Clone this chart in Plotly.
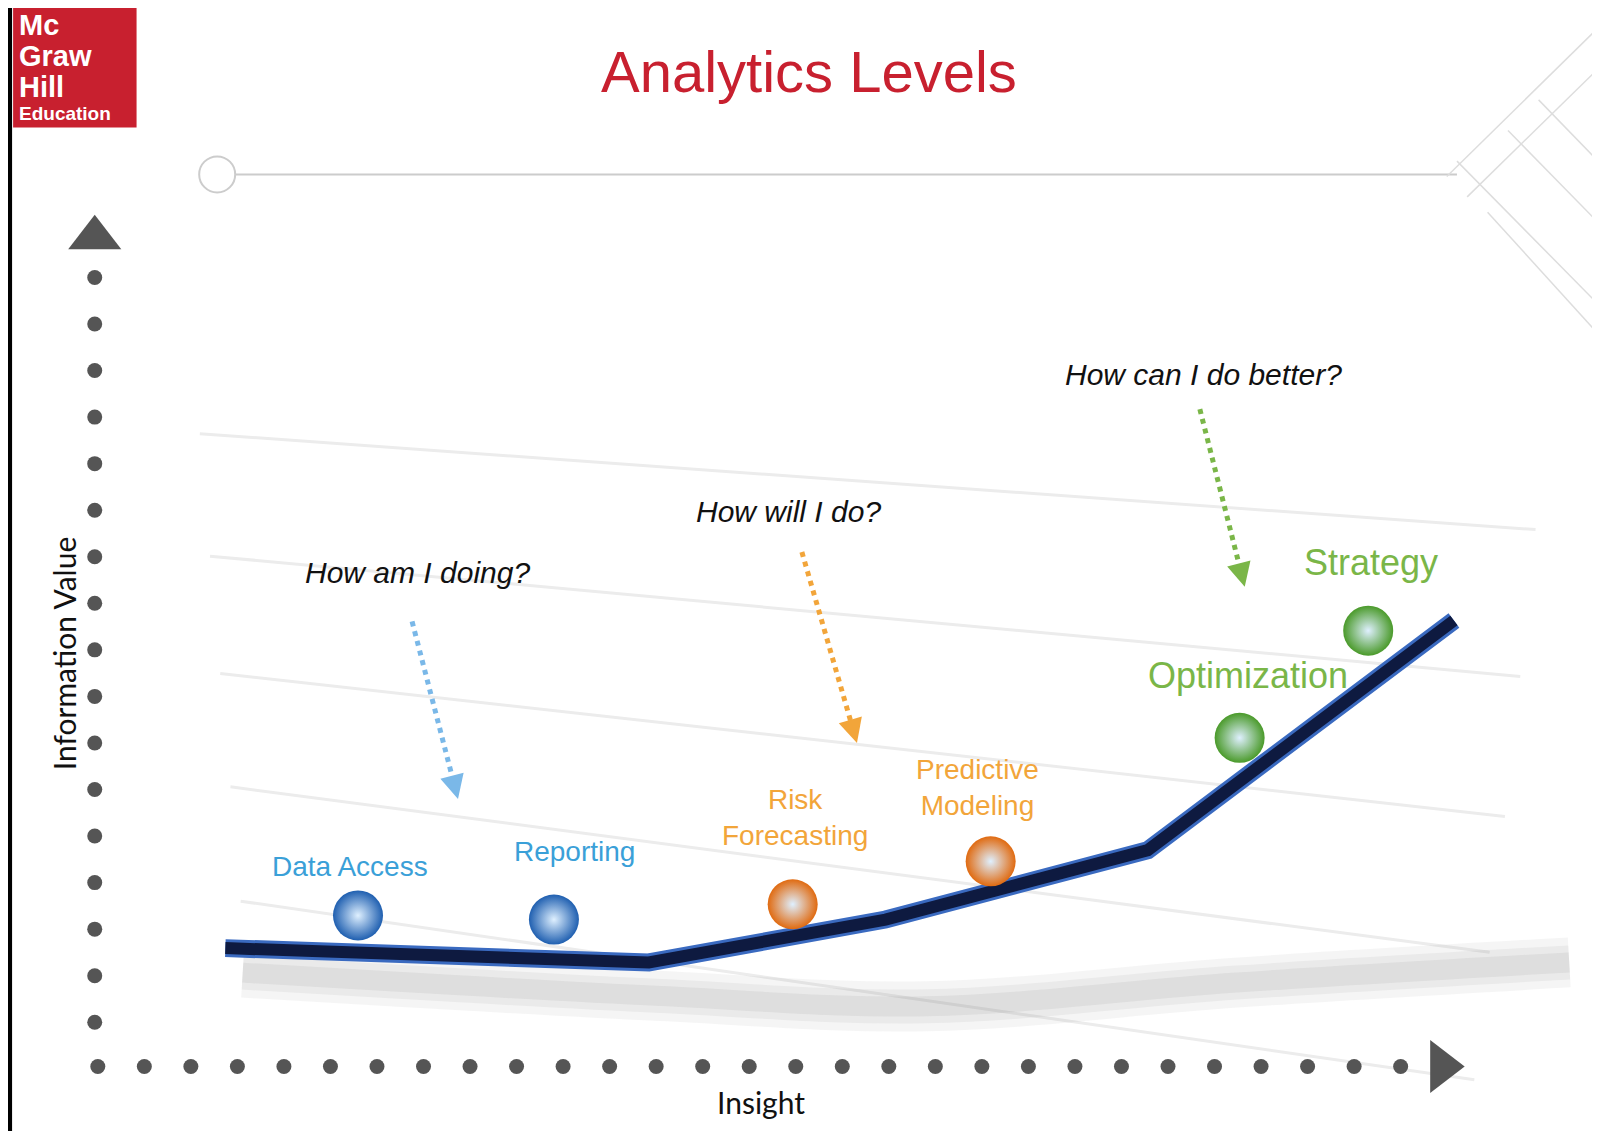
import plotly.graph_objects as go

W, H = 1568, 1108
curve_x = [213, 628, 860, 1117, 1417]
curve_y = [921, 935, 893, 825, 600]
ball_x = [343, 535, 769, 963, 1207, 1333]
ball_y = [889, 893, 878, 836, 715, 610]
ball_col = ["#1f5fb0", "#1f5fb0", "#e06a10", "#e06a10", "#4a9a2a", "#4a9a2a"]
lab_text = ["Data Access", "Reporting", "Risk<br>Forecasting", "Predictive<br>Modeling", "Optimization", "Strategy"]
lab_x = [335, 555, 771, 950, 1215, 1336]
lab_y = [841, 826, 793, 764, 654, 543]
lab_col = ["#3aa0d8", "#3aa0d8", "#f2a53a", "#f2a53a", "#7ab648", "#7ab648"]
lab_size = [28, 28, 28, 28, 36, 36]
q_text = ["How am I doing?", "How will I do?", "How can I do better?"]
q_x = [401, 765, 1172]
q_y = [553, 493, 359]
arr = [((396, 601), (441, 775), "#7ab8e8"), ((778, 533), (832, 720), "#f2a53a"), ((1168, 393), (1212, 567), "#7ab648")]
grid = [((188, 417), (1497, 511)), ((198, 537), (1482, 655)), ((208, 652), (1467, 792)),
        ((218, 763), (1452, 925)), ((228, 875), (1437, 1050))]
logo_lines = ["Mc", "Graw", "Hill"]
logo_y = [17, 47, 77]

fig = go.Figure()
for (a, b) in grid:
    fig.add_trace(go.Scatter(x=[a[0], b[0]], y=[a[1], b[1]], mode="lines",
                             line=dict(color="#ececec", width=3), hoverinfo="skip"))
# shadow
sx = [230, 640, 900, 1200, 1530]
sy = [945, 968, 978, 955, 935]
for w, a in [(50, 0.07), (34, 0.08), (20, 0.1)]:
    fig.add_trace(go.Scatter(x=sx, y=sy, mode="lines",
                             line=dict(color=f"rgba(120,120,120,{a})", width=w, shape="spline"), hoverinfo="skip"))
# curve
fig.add_trace(go.Scatter(x=curve_x, y=curve_y, mode="lines", line=dict(color="#3a6ac0", width=18), hoverinfo="skip"))
fig.add_trace(go.Scatter(x=curve_x, y=curve_y, mode="lines", line=dict(color="#0e1a40", width=12), hoverinfo="skip"))
# balls
fig.add_trace(go.Scatter(x=ball_x, y=ball_y, mode="markers", hoverinfo="skip",
                         marker=dict(size=50, color=ball_col, line=dict(width=0),
                                     gradient=dict(type="radial", color="#dff0ff"))))
# axes dots
ydots = [264 + 45.6 * i for i in range(17)]
fig.add_trace(go.Scatter(x=[85] * len(ydots), y=ydots, mode="markers",
                         marker=dict(size=15, color="#555"), hoverinfo="skip"))
xdots = [88 + 45.6 * i for i in range(29)]
fig.add_trace(go.Scatter(x=xdots, y=[1037] * len(xdots), mode="markers",
                         marker=dict(size=15, color="#555"), hoverinfo="skip"))
fig.add_trace(go.Scatter(x=[85, 1405], y=[225, 1037], mode="markers", hoverinfo="skip",
                         marker=dict(size=46, color="#555", symbol=["triangle-up", "triangle-right"])))
# top line & circle
fig.add_trace(go.Scatter(x=[222, 1420], y=[163, 163], mode="lines", line=dict(color="#ccc", width=2), hoverinfo="skip"))
fig.add_trace(go.Scatter(x=[205], y=[163], mode="markers", hoverinfo="skip",
                         marker=dict(size=36, color="white", line=dict(color="#ccc", width=2))))
# decorative diagonals
for (a, b) in [((1410, 165), (1568, 10)), ((1430, 185), (1568, 50)), ((1420, 150), (1568, 300)),
               ((1470, 120), (1568, 220)), ((1500, 90), (1568, 160)), ((1450, 200), (1568, 330))]:
    fig.add_trace(go.Scatter(x=[a[0], b[0]], y=[a[1], b[1]], mode="lines",
                             line=dict(color="#ddd", width=1.5), hoverinfo="skip"))
# dotted arrows
for (a, b, c) in arr:
    dx, dy = b[0] - a[0], b[1] - a[1]
    fig.add_trace(go.Scatter(x=[a[0], b[0] - dx * 0.06], y=[a[1], b[1] - dy * 0.06], mode="lines",
                             line=dict(color=c, width=5, dash="dot"), hoverinfo="skip"))
    fig.add_annotation(x=b[0], y=b[1], ax=b[0] - dx * 0.08, ay=b[1] - dy * 0.08,
                       xref="x", yref="y", axref="x", ayref="y",
                       text="", showarrow=True, arrowhead=2, arrowsize=1.2, arrowwidth=4, arrowcolor=c,
                       standoff=0)
# labels
for t, x, y, c, s in zip(lab_text, lab_x, lab_y, lab_col, lab_size):
    fig.add_annotation(x=x, y=y, text=t, showarrow=False, font=dict(family="Arial", size=s, color=c))
for t, x, y in zip(q_text, q_x, q_y):
    fig.add_annotation(x=x, y=y, text="<i>" + t + "</i>", showarrow=False,
                       font=dict(family="Arial", size=30, color="#111"))
fig.add_annotation(x=785, y=62, text="Analytics Levels", showarrow=False,
                   font=dict(family="Arial", size=58, color="#c8202f"))
fig.add_annotation(x=55, y=632, text="Information Value", showarrow=False, textangle=-90,
                   font=dict(family="Lato", size=30, color="#111"))
fig.add_annotation(x=738, y=1072, text="Insight", showarrow=False,
                   font=dict(family="Lato", size=30, color="#111"))
# logo
fig.add_shape(type="rect", x0=5, y0=0, x1=126, y1=117, fillcolor="#c8202f", line=dict(width=0))
for t, y in zip(logo_lines, logo_y):
    fig.add_annotation(x=9, y=y, xanchor="left", showarrow=False, text="<b>" + t + "</b>",
                       font=dict(family="Arial", size=29, color="white"))
fig.add_annotation(x=9, y=103, xanchor="left", showarrow=False, text="<b>Education</b>",
                   font=dict(family="Arial", size=19, color="white"))
fig.add_shape(type="rect", x0=0, y0=0, x1=4, y1=H, fillcolor="black", line=dict(width=0))

fig.update_layout(width=1600, height=1131, margin=dict(l=0, r=0, t=0, b=0), showlegend=False,
                  plot_bgcolor="white", paper_bgcolor="white",
                  xaxis=dict(range=[0, W], visible=False),
                  yaxis=dict(range=[H, 0], visible=False))
fig.write_html("out.html")
